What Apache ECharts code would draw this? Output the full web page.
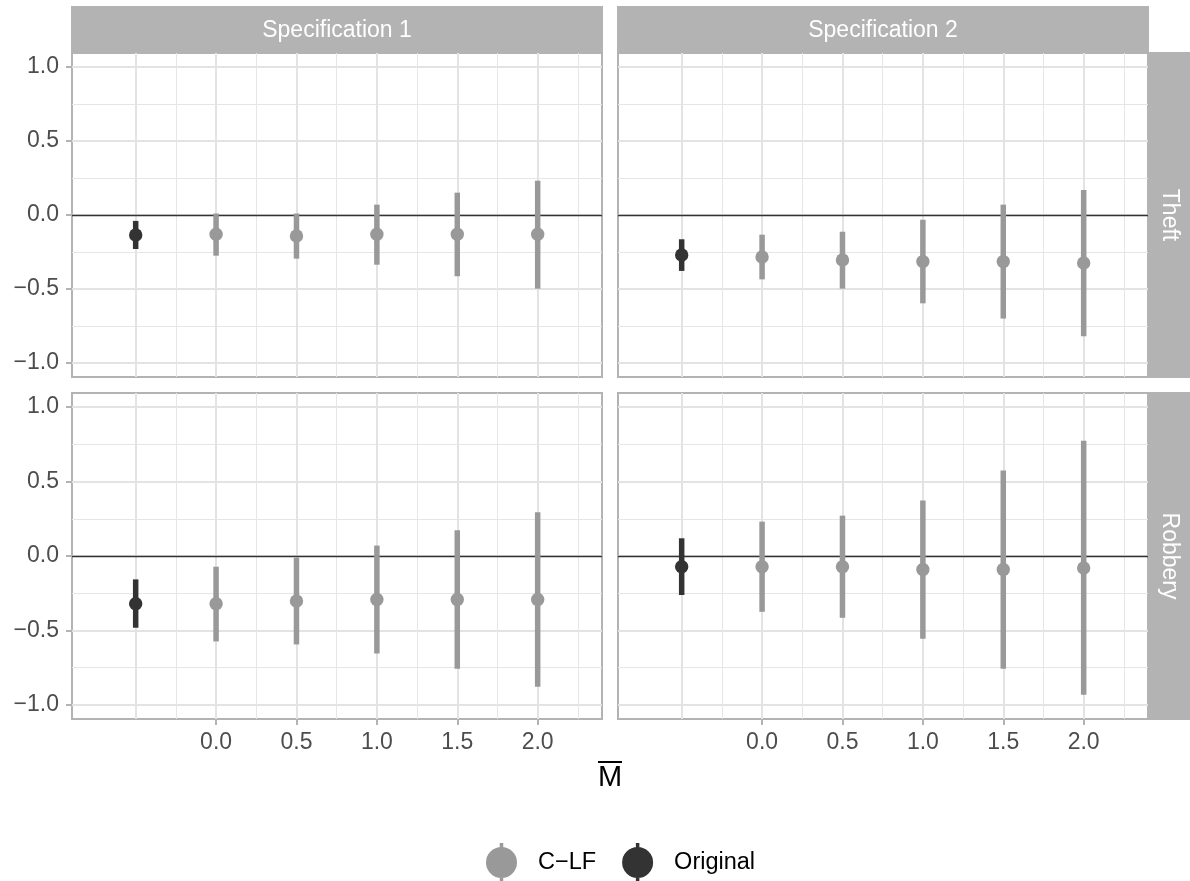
<!DOCTYPE html>
<html><head><meta charset="utf-8">
<script src="https://cdn.jsdelivr.net/npm/echarts@6/dist/echarts.min.js"></script>
<style>html,body{margin:0;padding:0;background:#fff}#chart{width:1190px;height:881px}</style>
</head><body><div id="chart"></div>
<script>
// ---------- data ----------
const specLabels = ['Specification 1', 'Specification 2'];
const crimeLabels = ['Theft', 'Robbery'];
const seriesNames = ['C\u2212LF', 'Original'];
const mbar = [0, 0.5, 1.0, 1.5, 2.0];
const originalX = -0.5;
const xTickValues = [0, 0.5, 1.0, 1.5, 2.0];
const xExtraMajor = [-0.5];
const xMinorValues = [-0.25, 0.25, 0.75, 1.25, 1.75, 2.25];
const yTickValues = [-1.0, -0.5, 0, 0.5, 1.0];
const yMinorValues = [-0.75, -0.25, 0.25, 0.75];
const xTitle = 'M';

// Theft, Specification 1
const theftS1ClfEst  = [-0.13, -0.142, -0.13, -0.13, -0.13];
const theftS1ClfLow  = [-0.275, -0.295, -0.336, -0.414, -0.498];
const theftS1ClfHigh = [0.01, 0.01, 0.07, 0.151, 0.232];
const theftS1Orig    = [-0.135, -0.23, -0.04]; // est, low, high
// Theft, Specification 2
const theftS2ClfEst  = [-0.284, -0.304, -0.315, -0.315, -0.324];
const theftS2ClfLow  = [-0.435, -0.498, -0.597, -0.70, -0.82];
const theftS2ClfHigh = [-0.133, -0.113, -0.032, 0.07, 0.169];
const theftS2Orig    = [-0.27, -0.378, -0.164];
// Robbery, Specification 1
const robS1ClfEst  = [-0.321, -0.303, -0.292, -0.292, -0.292];
const robS1ClfLow  = [-0.574, -0.594, -0.655, -0.758, -0.879];
const robS1ClfHigh = [-0.072, -0.011, 0.07, 0.173, 0.294];
const robS1Orig    = [-0.321, -0.482, -0.157];
// Robbery, Specification 2
const robS2ClfEst  = [-0.072, -0.072, -0.09, -0.09, -0.081];
const robS2ClfLow  = [-0.375, -0.415, -0.556, -0.758, -0.932];
const robS2ClfHigh = [0.231, 0.271, 0.372, 0.574, 0.774];
const robS2Orig    = [-0.072, -0.262, 0.119];

// ---------- layout / style ----------
const FONT = "'Liberation Sans', Arial, Helvetica, sans-serif";
const xMin = -0.896, xMax = 2.4, yMin = -1.095, yMax = 1.095;
const gridLeft = [72, 618], gridTop = [53, 393], gridW = 530, gridH = [324, 326];
const colClf = '#999999', colOrig = '#333333', stripCol = '#b3b3b3';
const majorLine = {color: '#e3e3e3', width: 2};
const minorLine = {color: '#e6e6e6', width: 1};

const panels = [
  {row: 0, col: 0, est: theftS1ClfEst, low: theftS1ClfLow, high: theftS1ClfHigh, orig: theftS1Orig},
  {row: 0, col: 1, est: theftS2ClfEst, low: theftS2ClfLow, high: theftS2ClfHigh, orig: theftS2Orig},
  {row: 1, col: 0, est: robS1ClfEst, low: robS1ClfLow, high: robS1ClfHigh, orig: robS1Orig},
  {row: 1, col: 1, est: robS2ClfEst, low: robS2ClfLow, high: robS2ClfHigh, orig: robS2Orig}
];

const fmt = v => (v < 0 ? '\u2212' : '') + Math.abs(v).toFixed(1);

function renderPointRange(params, api) {
  const x = api.value(0), y = api.value(1), lo = api.value(2), hi = api.value(3);
  const pLo = api.coord([x, lo]), pHi = api.coord([x, hi]), pM = api.coord([x, y]);
  const color = api.visual('color');
  return {type: 'group', children: [
    {type: 'line', shape: {x1: pLo[0], y1: pLo[1], x2: pHi[0], y2: pHi[1]},
     style: {stroke: color, lineWidth: 5.5, lineCap: 'butt'}},
    {type: 'circle', shape: {cx: pM[0], cy: pM[1], r: 6.7}, style: {fill: color}}
  ]};
}

const grids = [], xAxes = [], yAxes = [], series = [];
panels.forEach((p, i) => {
  grids.push({left: gridLeft[p.col], top: gridTop[p.row], width: gridW, height: gridH[p.row],
    show: true, borderColor: '#b3b3b3', borderWidth: 2, backgroundColor: 'transparent'});
  const isBottom = p.row === 1, isLeft = p.col === 0;
  const baseX = {type: 'value', gridIndex: i, min: xMin, max: xMax, axisLine: {show: false, onZero: false}};
  xAxes.push(Object.assign({}, baseX, {
    position: 'bottom',
    axisTick: {show: isBottom, customValues: xTickValues, length: 6, lineStyle: {color: '#b3b3b3', width: 2}},
    axisLabel: {show: isBottom, customValues: xTickValues, formatter: fmt, margin: 12,
      fontSize: 23, color: '#4d4d4d', fontFamily: FONT},
    splitLine: {show: true, lineStyle: majorLine}
  }));
  xAxes.push(Object.assign({}, baseX, {
    axisTick: {show: false, customValues: xMinorValues}, axisLabel: {show: false},
    splitLine: {show: true, lineStyle: minorLine}
  }));
  xAxes.push(Object.assign({}, baseX, {
    axisTick: {show: false, customValues: xExtraMajor}, axisLabel: {show: false},
    splitLine: {show: true, lineStyle: majorLine}
  }));
  const baseY = {type: 'value', gridIndex: i, min: yMin, max: yMax, axisLine: {show: false, onZero: false}};
  yAxes.push(Object.assign({}, baseY, {
    position: 'left',
    axisTick: {show: isLeft, customValues: yTickValues, length: 6, lineStyle: {color: '#b3b3b3', width: 2}},
    axisLabel: {show: isLeft, customValues: yTickValues, formatter: fmt, margin: 13,
      fontSize: 23, color: '#4d4d4d', fontFamily: FONT},
    splitLine: {show: true, lineStyle: majorLine}
  }));
  yAxes.push(Object.assign({}, baseY, {
    axisTick: {show: false, customValues: yMinorValues}, axisLabel: {show: false},
    splitLine: {show: true, lineStyle: minorLine}
  }));
  series.push({
    type: 'custom', name: seriesNames[0], xAxisIndex: 3 * i, yAxisIndex: 2 * i,
    renderItem: renderPointRange, itemStyle: {color: colClf}, z: 3,
    encode: {x: 0, y: [1, 2, 3]},
    data: mbar.map((x, k) => [x, p.est[k], p.low[k], p.high[k]]),
    markLine: {silent: true, symbol: ['none', 'none'], z: 1, label: {show: false},
      lineStyle: {color: '#333333', width: 1.4, type: 'solid'}, data: [{yAxis: 0}]}
  });
  series.push({
    type: 'custom', name: seriesNames[1], xAxisIndex: 3 * i, yAxisIndex: 2 * i,
    renderItem: renderPointRange, itemStyle: {color: colOrig}, z: 3,
    encode: {x: 0, y: [1, 2, 3]},
    data: [[originalX, p.orig[0], p.orig[1], p.orig[2]]]
  });
});

const legendIcon = 'path://M13.75,0 h3.5 v39 h-3.5 Z M0,19.5 a15.5,15.5 0 1,1 31,0 a15.5,15.5 0 1,1 -31,0 Z';

const graphics = [];
specLabels.forEach((s, c) => {
  graphics.push({type: 'rect', shape: {x: gridLeft[c] - 1, y: 6, width: gridW + 2, height: gridTop[0] - 6},
    style: {fill: stripCol}, silent: true});
  graphics.push({type: 'text', x: gridLeft[c] + gridW / 2, y: (6 + gridTop[0]) / 2 + 1,
    style: {text: s, fill: '#ffffff', font: '23px ' + FONT, textAlign: 'center', textVerticalAlign: 'middle'}, silent: true});
});
crimeLabels.forEach((s, r) => {
  const x0 = gridLeft[1] + gridW + 1;
  graphics.push({type: 'rect', shape: {x: x0, y: gridTop[r] - 1, width: 1190 - x0, height: gridH[r] + 2},
    style: {fill: stripCol}, silent: true});
  graphics.push({type: 'text', x: (x0 + 1190) / 2, y: gridTop[r] + gridH[r] / 2, rotation: -Math.PI / 2,
    style: {text: s, fill: '#ffffff', font: '23px ' + FONT, textAlign: 'center', textVerticalAlign: 'middle'}, silent: true});
});
// x-axis title: M with overline
const titleX = (gridLeft[0] + gridLeft[1] + gridW) / 2;
graphics.push({type: 'text', x: titleX, y: 778,
  style: {text: xTitle, fill: '#000000', font: '29px ' + FONT, textAlign: 'center', textVerticalAlign: 'middle'}, silent: true});
graphics.push({type: 'line', shape: {x1: titleX - 12, y1: 762, x2: titleX + 12, y2: 762},
  style: {stroke: '#000000', lineWidth: 2}, silent: true});

const chart = echarts.init(document.getElementById('chart'), null, {renderer: 'canvas'});
chart.setOption({
  animation: false,
  backgroundColor: '#ffffff',
  grid: grids, xAxis: xAxes, yAxis: yAxes, series: series,
  legend: {
    left: 486, top: 843, padding: 0, orient: 'horizontal', itemWidth: 31, itemHeight: 39, itemGap: 26,
    selectedMode: false,
    textStyle: {fontSize: 23.5, color: '#000000', fontFamily: FONT, padding: [0, 0, 0, 16]},
    data: seriesNames.map(n => ({name: n, icon: legendIcon}))
  },
  graphic: graphics
});
</script></body></html>
